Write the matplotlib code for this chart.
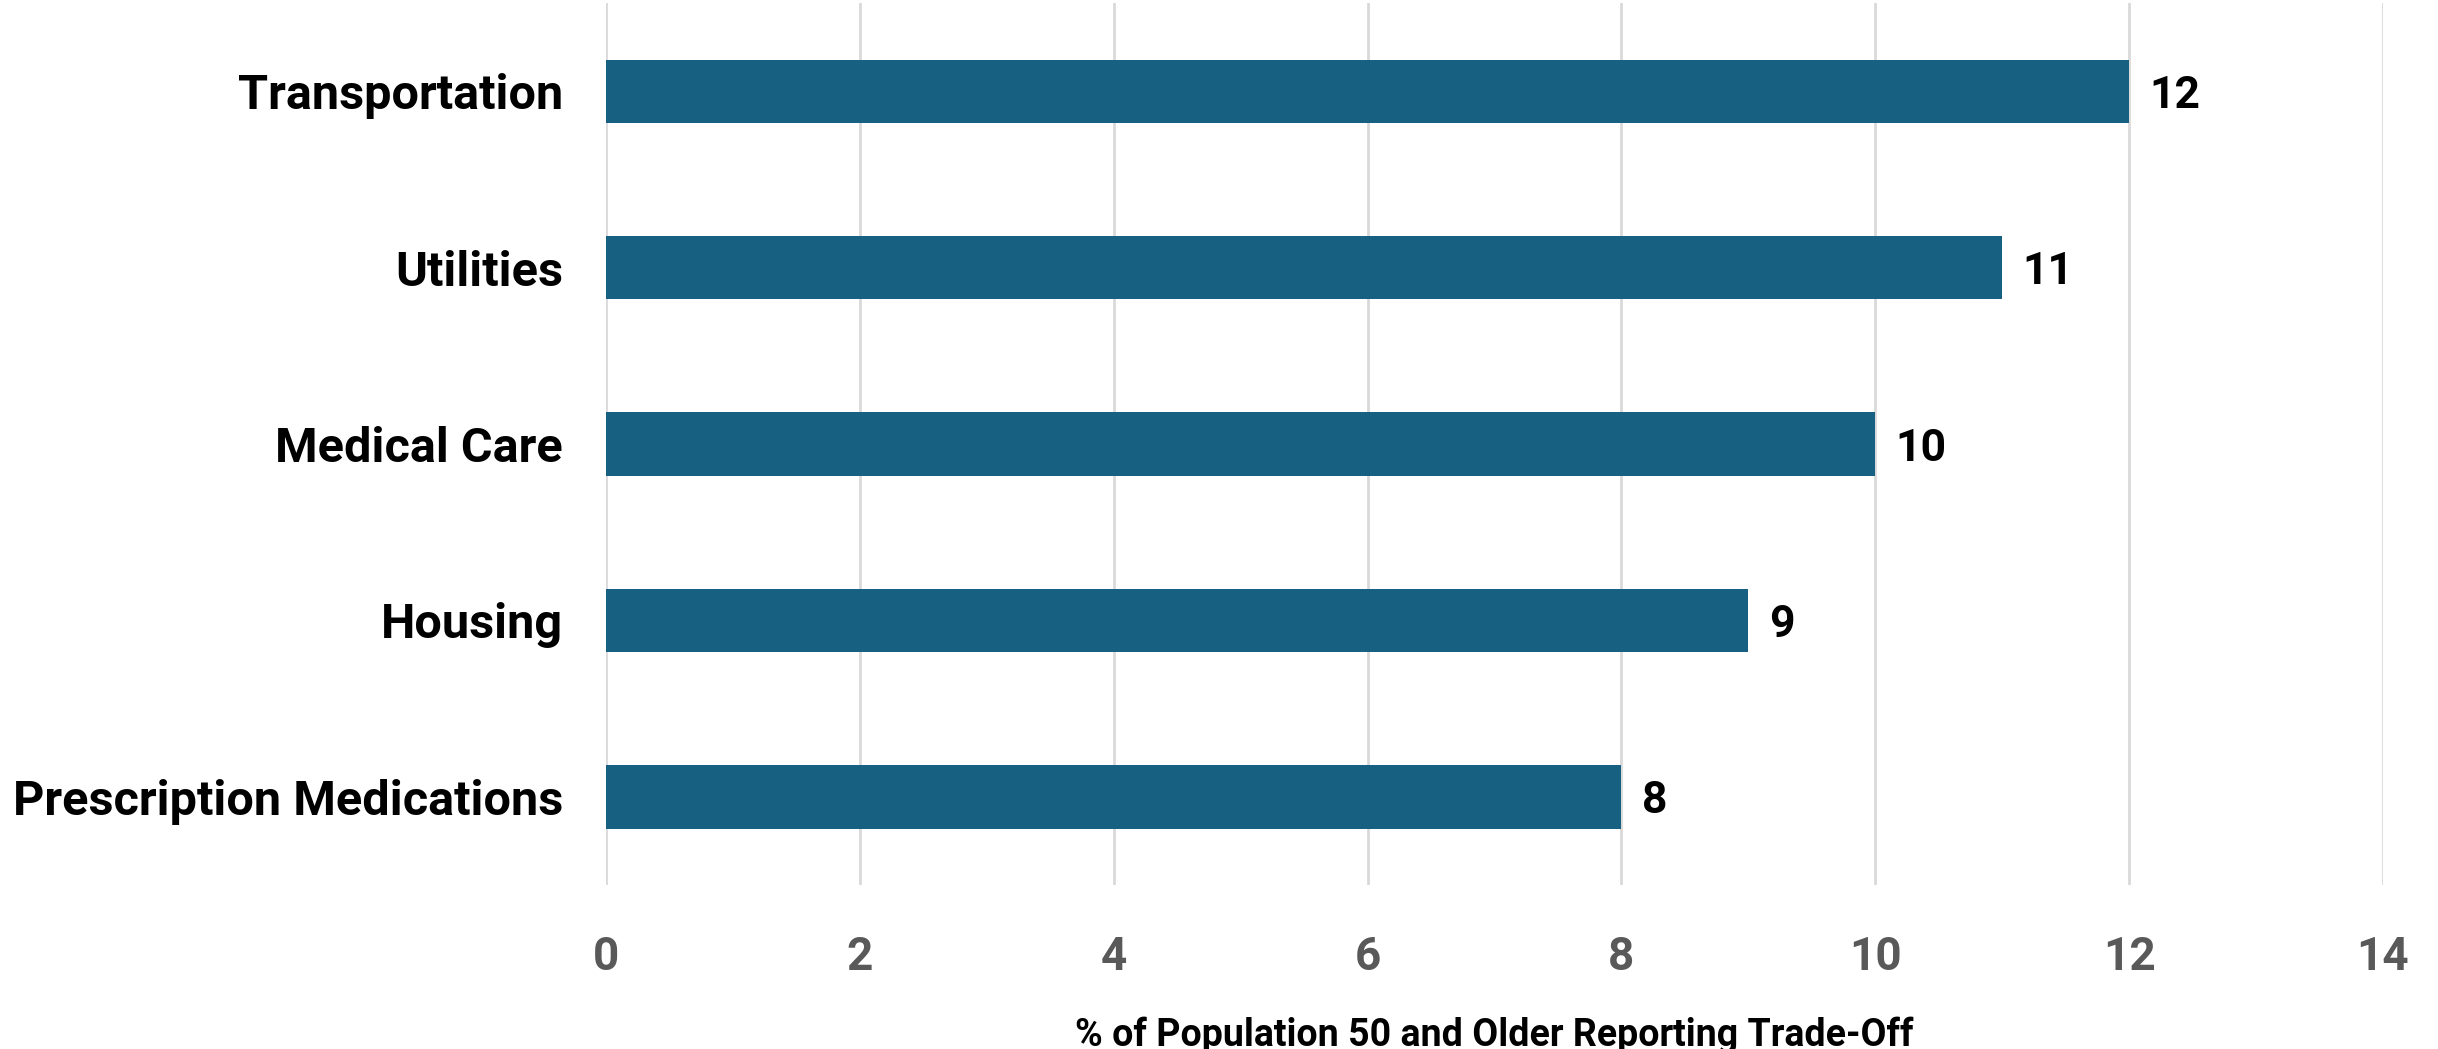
import matplotlib.pyplot as plt

categories = ['Transportation', 'Utilities', 'Medical Care', 'Housing', 'Prescription Medications']
values = [12, 11, 10, 9, 8]
xticks = [0, 2, 4, 6, 8, 10, 12, 14]

plt.rcParams['font.family'] = ['Roboto', 'DejaVu Sans']

fig = plt.figure(figsize=(24.38, 10.49), dpi=100)
ax = fig.add_axes([0.2486, 0.1563, 0.7288, 0.8407])

ypos = list(range(len(categories)))
bars = ax.barh(ypos, values, height=0.36, color='#186082', zorder=3)
ax.set_ylim(len(categories) - 0.5, -0.5)
ax.set_xlim(0, 14)

ax.set_yticks(ypos)
ax.set_yticklabels(categories, fontsize=35, fontweight='bold', color='black')
ax.set_xticks(xticks)
ax.set_xticklabels([str(t) for t in xticks], fontsize=33, fontweight='bold', color='#595959')
ax.tick_params(axis='y', length=0, pad=31)
ax.tick_params(axis='x', length=0, pad=36)

ax.grid(axis='x', color='#d9d9d9', linewidth=2, zorder=0)
for s in ax.spines.values():
    s.set_visible(False)

for b, v in zip(bars, values):
    ax.text(b.get_width() + 0.16, b.get_y() + b.get_height() / 2, str(v),
            ha='left', va='center_baseline', fontsize=32, fontweight='bold', color='black')

# axis title placed in figure coords so it is not clipped at the bottom
fig.text(0.2486 + 0.7288 / 2, 1 - 1035 / 1049, '% of Population 50 and Older Reporting Trade-Off',
         ha='center', va='center', fontsize=27, fontweight='bold', color='black')

fig.savefig('out.png', dpi=100)
